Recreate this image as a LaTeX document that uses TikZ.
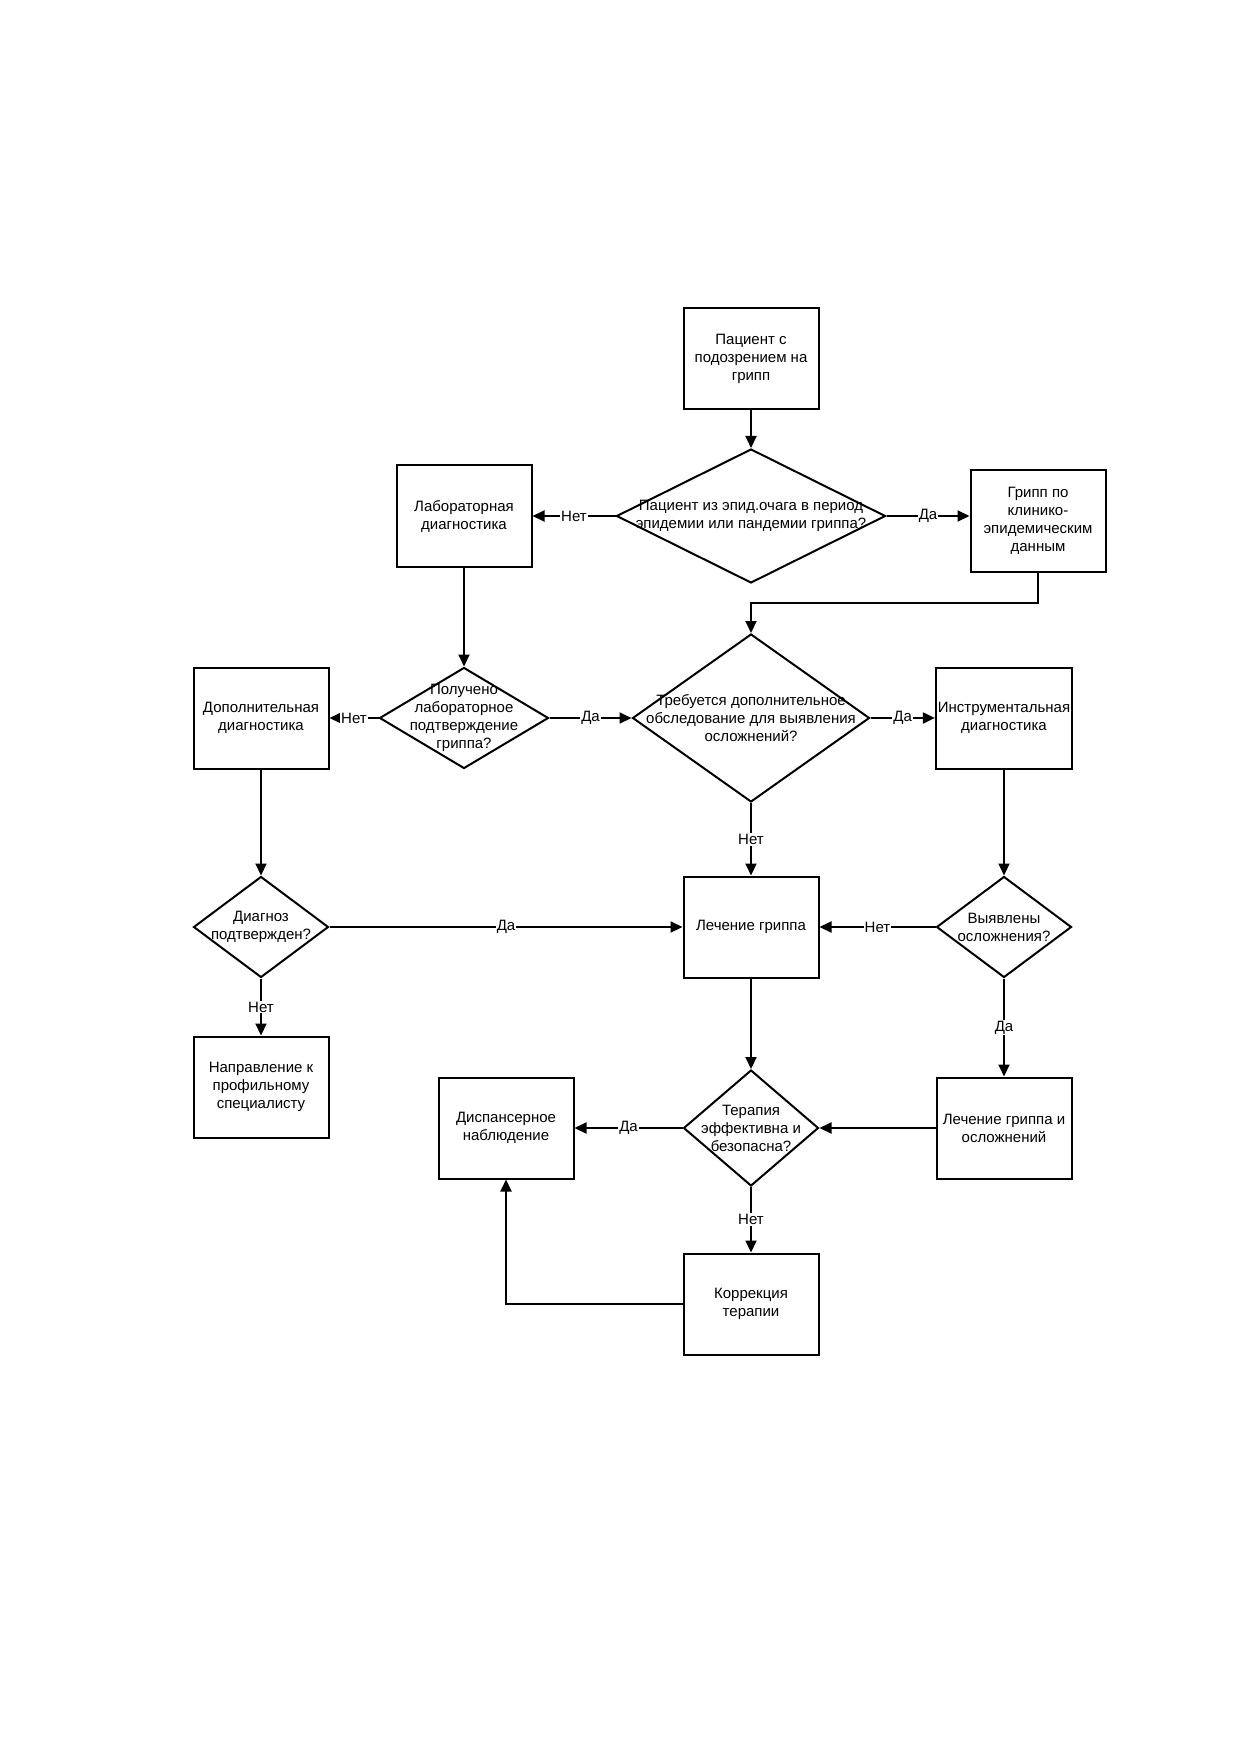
\documentclass[tikz,border=0pt]{standalone}
\usepackage{fontspec}
\setmainfont{Liberation Sans}
\usepackage{tikz}
\usetikzlibrary{shapes.geometric}
\usetikzlibrary{arrows.meta}

\tikzset{
  box/.style={rectangle, draw, line width=1pt, minimum width=67.5pt, minimum height=50.5pt, align=center, inner sep=1pt},
  decision/.style={diamond, draw, line width=1pt, inner sep=0pt},
  arr/.style={line width=1pt, -{Triangle[length=6pt,width=5.5pt]}},
  lbl/.style={fill=white, inner sep=0.6pt}
}

\begin{document}
\begin{tikzpicture}[x=0.5pt, y=-0.5pt, font=\fontsize{7.5}{9}\selectfont]
\useasboundingbox (0,0) rectangle (1240,1754);

% TOP
\node[box] (A) at (751, 359) {Пациент с\\подозрением на\\грипп};
\node[decision, minimum width=134.5pt, minimum height=67pt,
  label={[align=center]center:Пациент из эпид.очага в период\\эпидемии или пандемии гриппа?}] (B) at (751, 516) {};
\node[box] (C) at (464, 516) {Лабораторная\\диагностика};
\node[box] (D) at (1038, 521) {Грипп по\\клинико-\\эпидемическим\\данным};

% MIDDLE
\node[decision, minimum width=84.5pt, minimum height=50.5pt,
  label={[align=center]center:Получено\\лабораторное\\подтверждение\\гриппа?}] (E) at (464, 718) {};
\node[decision, minimum width=118.5pt, minimum height=84pt,
  label={[align=center]center:Требуется дополнительное\\обследование для выявления\\осложнений?}] (F) at (751, 718) {};
\node[box] (G) at (261, 718) {Дополнительная\\диагностика};
\node[box] (H) at (1004, 718) {Инструментальная\\диагностика};

% LOWER
\node[decision, minimum width=67.5pt, minimum height=50.5pt,
  label={[align=center]center:Диагноз\\подтвержден?}] (I) at (261, 927) {};
\node[box] (J) at (751, 927) {Лечение гриппа};
\node[decision, minimum width=67.5pt, minimum height=50.5pt,
  label={[align=center]center:Выявлены\\осложнения?}] (K) at (1004, 927) {};
\node[box] (L) at (261, 1087) {Направление к\\профильному\\специалисту};

% BOTTOM
\node[box] (M) at (506, 1128) {Диспансерное\\наблюдение};
\node[decision, minimum width=67.5pt, minimum height=58pt,
  label={[align=center]center:Терапия\\эффективна и\\безопасна?}] (N) at (751, 1128) {};
\node[box] (O) at (1004, 1128) {Лечение гриппа и\\осложнений};
\node[box] (P) at (751, 1304) {Коррекция\\терапии};

% bend points
\coordinate (T) at (751, 603);

% connectors
\draw[arr] (A) -- (B);
\draw[arr] (B) -- node[lbl]{Нет} (C);
\draw[arr] (B.east) -- node[lbl]{Да} (B.east -| D.west);
\draw[arr] (D.south) |- (T) -- (F.north);
\draw[arr] (C) -- (E);
\draw[arr] (E) -- node[lbl]{Нет} (G);
\draw[arr] (E) -- node[lbl]{Да} (F);
\draw[arr] (F) -- node[lbl]{Да} (H);
\draw[arr] (F) -- node[lbl]{Нет} (J);
\draw[arr] (G) -- (I);
\draw[arr] (H) -- (K);
\draw[arr] (I) -- node[lbl]{Да} (J);
\draw[arr] (I) -- node[lbl]{Нет} (L);
\draw[arr] (K) -- node[lbl]{Нет} (J);
\draw[arr] (K) -- node[lbl]{Да} (O);
\draw[arr] (J) -- (N);
\draw[arr] (O) -- (N);
\draw[arr] (N) -- node[lbl]{Да} (M);
\draw[arr] (N) -- node[lbl]{Нет} (P);
\draw[arr] (P.west) -| (M.south);

\end{tikzpicture}
\end{document}
